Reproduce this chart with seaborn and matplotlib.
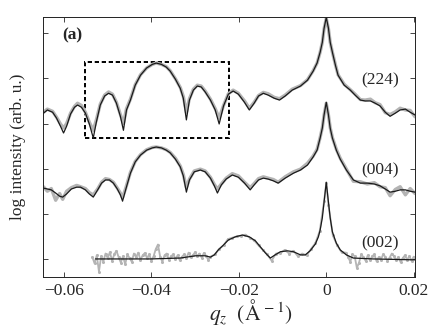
import numpy as np
import pandas as pd
import matplotlib
matplotlib.use("Agg")
import matplotlib.pyplot as plt
import matplotlib.patches as patches
import seaborn as sns

# --- fitted curves (black) ---
q_224 = [-0.0647, -0.0638, -0.0626, -0.0617, -0.0608, -0.0601, -0.0594, -0.0585, -0.0576, -0.0569,
         -0.0560, -0.0551, -0.0542, -0.0533, -0.0526, -0.0517, -0.0507, -0.0498, -0.0489, -0.0480,
         -0.0471, -0.0464, -0.0457, -0.0448, -0.0437, -0.0425, -0.0411, -0.0398, -0.0389, -0.0377,
         -0.0366, -0.0357, -0.0345, -0.0334, -0.0327, -0.0320, -0.0313, -0.0304, -0.0295, -0.0286,
         -0.0277, -0.0265, -0.0254, -0.0245, -0.0235, -0.0224, -0.0213, -0.0201, -0.0187, -0.0176,
         -0.0165, -0.0155, -0.0144, -0.0133, -0.0119, -0.0107, -0.0094, -0.0078, -0.0059, -0.0043,
         -0.0030, -0.0021, -0.0014, -0.0009, -0.0005, 0.0, 0.0005, 0.0009, 0.0014, 0.0021,
         0.0027, 0.0041, 0.0055, 0.0066, 0.0078, 0.0089, 0.0101, 0.0112, 0.0123, 0.0135,
         0.0146, 0.0158, 0.0169, 0.0181, 0.0192, 0.0203]
fit_224 = [3.23, 3.30, 3.25, 3.12, 2.94, 2.79, 2.94, 3.21, 3.36, 3.41,
           3.36, 3.23, 2.99, 2.68, 3.03, 3.41, 3.61, 3.67, 3.63, 3.45,
           3.16, 2.85, 3.30, 3.52, 3.85, 4.07, 4.23, 4.31, 4.34, 4.31,
           4.25, 4.16, 3.98, 3.78, 3.56, 3.08, 3.52, 3.74, 3.83, 3.81,
           3.70, 3.52, 3.30, 2.99, 3.39, 3.65, 3.72, 3.65, 3.47, 3.30,
           3.45, 3.61, 3.67, 3.63, 3.56, 3.52, 3.61, 3.74, 3.83, 3.96,
           4.16, 4.34, 4.58, 4.80, 5.11, 5.35, 5.11, 4.80, 4.58, 4.29,
           4.07, 3.85, 3.74, 3.63, 3.52, 3.50, 3.50, 3.45, 3.39, 3.25,
           3.16, 3.23, 3.30, 3.32, 3.25, 3.19]
meas_224 = [3.25, 3.32, 3.27, 3.14, 2.99, 2.90, 3.00, 3.23, 3.38, 3.45,
            3.40, 3.25, 3.03, 2.85, 3.08, 3.43, 3.63, 3.70, 3.65, 3.47,
            3.20, 3.00, 3.33, 3.54, 3.86, 4.08, 4.23, 4.31, 4.34, 4.31,
            4.26, 4.17, 3.99, 3.80, 3.60, 3.25, 3.55, 3.76, 3.85, 3.83,
            3.72, 3.54, 3.33, 3.12, 3.40, 3.66, 3.74, 3.67, 3.50, 3.34,
            3.47, 3.62, 3.69, 3.66, 3.58, 3.55, 3.63, 3.76, 3.84, 3.97,
            4.17, 4.34, 4.58, 4.80, 5.10, 5.33, 5.10, 4.80, 4.58, 4.30,
            4.08, 3.87, 3.75, 3.65, 3.53, 3.52, 3.54, 3.46, 3.42, 3.24,
            3.20, 3.26, 3.34, 3.30, 3.29, 3.15]

q_004 = [-0.0647, -0.0638, -0.0629, -0.0619, -0.0610, -0.0603, -0.0594, -0.0583, -0.0571, -0.0562,
         -0.0551, -0.0542, -0.0533, -0.0523, -0.0514, -0.0505, -0.0496, -0.0487, -0.0478, -0.0471,
         -0.0466, -0.0459, -0.0448, -0.0437, -0.0425, -0.0411, -0.0398, -0.0389, -0.0377, -0.0366,
         -0.0357, -0.0345, -0.0334, -0.0327, -0.0320, -0.0313, -0.0302, -0.0288, -0.0277, -0.0265,
         -0.0256, -0.0249, -0.0240, -0.0229, -0.0215, -0.0201, -0.0187, -0.0174, -0.0165, -0.0155,
         -0.0144, -0.0133, -0.0121, -0.0110, -0.0094, -0.0075, -0.0059, -0.0043, -0.0030, -0.0021,
         -0.0014, -0.0009, -0.0005, 0.0, 0.0005, 0.0009, 0.0014, 0.0023, 0.0032, 0.0046,
         0.0062, 0.0078, 0.0094, 0.0110, 0.0123, 0.0135, 0.0146, 0.0158, 0.0169, 0.0181,
         0.0192, 0.0203]
fit_004 = [1.57, 1.55, 1.53, 1.46, 1.39, 1.37, 1.44, 1.55, 1.59, 1.59,
           1.53, 1.44, 1.37, 1.53, 1.68, 1.75, 1.75, 1.68, 1.55, 1.42,
           1.28, 1.53, 1.90, 2.15, 2.30, 2.41, 2.46, 2.48, 2.46, 2.41,
           2.35, 2.21, 2.04, 1.84, 1.48, 1.75, 1.93, 1.97, 1.93, 1.79,
           1.62, 1.46, 1.64, 1.77, 1.86, 1.81, 1.68, 1.53, 1.64, 1.75,
           1.79, 1.77, 1.73, 1.68, 1.79, 1.90, 1.97, 2.08, 2.26, 2.41,
           2.68, 2.90, 3.19, 3.47, 3.19, 2.90, 2.68, 2.41, 2.21, 1.97,
           1.75, 1.68, 1.68, 1.66, 1.62, 1.55, 1.48, 1.50, 1.53, 1.53,
           1.50, 1.48]
meas_004 = [1.60, 1.50, 1.56, 1.30, 1.45, 1.32, 1.50, 1.58, 1.63, 1.60,
            1.56, 1.47, 1.42, 1.55, 1.70, 1.78, 1.76, 1.70, 1.57, 1.46,
            1.36, 1.56, 1.92, 2.16, 2.31, 2.42, 2.47, 2.48, 2.46, 2.42,
            2.36, 2.23, 2.06, 1.87, 1.58, 1.77, 1.95, 1.99, 1.95, 1.81,
            1.65, 1.55, 1.66, 1.79, 1.89, 1.84, 1.70, 1.58, 1.67, 1.78,
            1.82, 1.79, 1.76, 1.70, 1.82, 1.93, 1.99, 2.12, 2.28, 2.43,
            2.69, 2.91, 3.19, 3.45, 3.19, 2.91, 2.69, 2.43, 2.23, 1.99,
            1.72, 1.71, 1.66, 1.69, 1.60, 1.58, 1.40, 1.54, 1.60, 1.42,
            1.56, 1.45]

q_002 = [-0.0528, -0.0471, -0.0402, -0.0334, -0.0299, -0.0277, -0.0265, -0.0256, -0.0247, -0.0235,
         -0.0224, -0.0208, -0.0192, -0.0176, -0.0162, -0.0151, -0.0139, -0.0128, -0.0117, -0.0105,
         -0.0089, -0.0075, -0.0059, -0.0048, -0.0037, -0.0025, -0.0018, -0.0014, -0.0009, -0.0005,
         0.0, 0.0005, 0.0009, 0.0014, 0.0023, 0.0032, 0.0046, 0.0062, 0.0107, 0.0203]
fit_002 = [0.00, 0.00, 0.00, 0.02, 0.07, 0.07, 0.04, 0.09, 0.20, 0.31,
           0.42, 0.49, 0.53, 0.49, 0.40, 0.27, 0.13, 0.02, 0.09, 0.16,
           0.18, 0.16, 0.09, 0.09, 0.18, 0.33, 0.49, 0.64, 0.91, 1.26,
           1.70, 1.26, 0.91, 0.60, 0.35, 0.20, 0.09, 0.02, 0.00, -0.02]

q_002_meas = [-0.0535, -0.0530, -0.0525, -0.0520, -0.0515, -0.0510, -0.0505, -0.0500, -0.0495, -0.0490,
              -0.0485, -0.0480, -0.0475, -0.0470, -0.0465, -0.0460, -0.0455, -0.0450, -0.0445, -0.0440,
              -0.0435, -0.0430, -0.0425, -0.0420, -0.0415, -0.0410, -0.0405, -0.0400, -0.0395, -0.0390,
              -0.0385, -0.0380, -0.0375, -0.0370, -0.0365, -0.0360, -0.0355, -0.0350, -0.0345, -0.0340,
              -0.0335, -0.0330, -0.0325, -0.0320, -0.0315, -0.0310, -0.0305, -0.0300, -0.0295, -0.0290,
              -0.0285, -0.0280, -0.0275, -0.0270, -0.0265,
              -0.0255, -0.0245, -0.0235, -0.0225, -0.0215, -0.0205, -0.0195, -0.0185, -0.0175, -0.0165,
              -0.0155, -0.0145, -0.0135, -0.0125, -0.0115, -0.0105, -0.0095, -0.0085, -0.0075, -0.0065,
              -0.0055, -0.0045, -0.0035, -0.0025, -0.0015, -0.0005, 0.0, 0.0005, 0.0015, 0.0025,
              0.0035, 0.0045, 0.0050, 0.0055, 0.0060, 0.0065, 0.0070, 0.0075, 0.0080, 0.0085,
              0.0090, 0.0095, 0.0100, 0.0105, 0.0110, 0.0115, 0.0120, 0.0125, 0.0130, 0.0135,
              0.0140, 0.0145, 0.0150, 0.0155, 0.0160, 0.0165, 0.0170, 0.0175, 0.0180, 0.0185,
              0.0190, 0.0195, 0.0200]
meas_002 = [0.04, -0.10, 0.08, -0.28, 0.06, -0.06, 0.12, 0.02, 0.15, -0.04,
            0.10, 0.18, 0.04, -0.08, 0.06, -0.12, 0.10, 0.02, -0.06, 0.12,
            0.04, 0.14, -0.02, 0.08, 0.13, 0.02, 0.10, -0.04, 0.06, 0.22,
            0.32, 0.05, -0.06, 0.08, 0.12, -0.02, 0.06, 0.10, 0.00, 0.08,
            -0.03, 0.05, 0.10, 0.02, 0.14, 0.04, 0.08, 0.15, 0.06, 0.12,
            0.03, 0.13, 0.07, -0.02, 0.05,
            0.10, 0.22, 0.30, 0.44, 0.47, 0.50, 0.51, 0.54, 0.47, 0.41,
            0.30, 0.20, 0.10, -0.04, 0.12, 0.13, 0.20, 0.12, 0.18, 0.06,
            0.12, 0.08, 0.22, 0.35, 0.62, 1.28, 1.68, 1.20, 0.52, 0.30,
            0.15, 0.14, 0.04, -0.06, 0.10, 0.06, -0.20, -0.08, 0.10, 0.04,
            -0.04, 0.08, -0.03, 0.06, 0.10, -0.05, 0.04, -0.02, 0.10, 0.05,
            -0.04, 0.03, 0.12, 0.06, -0.03, 0.04, -0.07, 0.02, 0.08, -0.02,
            0.06, -0.04, 0.05]

xticks = [-0.06, -0.04, -0.02, 0, 0.02]
xtick_labels = ["\u22120.06", "\u22120.04", "\u22120.02", "0", "0.02"]
yticks = [0, 1, 2, 3, 4, 5]

reflections = ["(224)", "(004)", "(002)"]
label_q = [0.0123, 0.0123, 0.0123]
label_y = [3.96, 1.97, 0.35]

box_q = [-0.0551, -0.0222]
box_y = [2.68, 4.36]

sns.set_style("ticks")
plt.rcParams["font.family"] = ["Liberation Serif", "DejaVu Serif"]
plt.rcParams["mathtext.fontset"] = "stix"
plt.rcParams["xtick.direction"] = "in"
plt.rcParams["ytick.direction"] = "in"

fig = plt.figure(figsize=(4.36, 3.28), dpi=100)
ax = fig.add_axes([43 / 436, 51 / 328, 372 / 436, 260 / 328])

gray = "#b4b4b4"
sns.lineplot(x=q_224, y=meas_224, ax=ax, color=gray, lw=2.4, sort=False, estimator=None)
sns.lineplot(x=q_004, y=meas_004, ax=ax, color=gray, lw=2.4, sort=False, estimator=None)
sns.lineplot(x=q_002_meas, y=meas_002, ax=ax, color=gray, lw=1.3, sort=False, estimator=None,
             marker="o", markersize=2.2, markeredgewidth=0)

for q, v in [(q_224, fit_224), (q_004, fit_004), (q_002, fit_002)]:
    sns.lineplot(x=q, y=v, ax=ax, color="#1a1a1a", lw=0.9, sort=False, estimator=None)

ax.add_patch(patches.Rectangle((box_q[0], box_y[0]), box_q[1] - box_q[0], box_y[1] - box_y[0],
                               fill=False, ec="black", lw=1.4, ls=(0, (2.2, 1.4))))

for name, xq, yv in zip(reflections, label_q, label_y):
    ax.text(xq, yv, name, fontsize=12.5, ha="center", va="center")
ax.text(0.078, 0.93, "(a)", transform=ax.transAxes, fontsize=12.5, fontweight="bold",
        ha="center", va="center")

ax.set_xlim(-0.0648, 0.0203)
ax.set_ylim(-0.4, 5.36)
ax.set_xticks(xticks)
ax.set_xticklabels(xtick_labels)
ax.set_yticks(yticks)
ax.set_yticklabels([])
ax.tick_params(top=True, right=True, length=3.5, width=0.6, labelsize=12.5, pad=4)
for s in ax.spines.values():
    s.set_linewidth(0.7)
    s.set_color("#222222")

ax.set_xlabel(r"$q_z\ \ \left(\mathrm{\AA}^{\,-1}\right)$", fontsize=15.5, va="center")
ax.xaxis.set_label_coords(0.56, -0.135)
ax.set_ylabel("log intensity (arb. u.)", fontsize=12.5, labelpad=8)

fig.savefig("out.png", dpi=100)
